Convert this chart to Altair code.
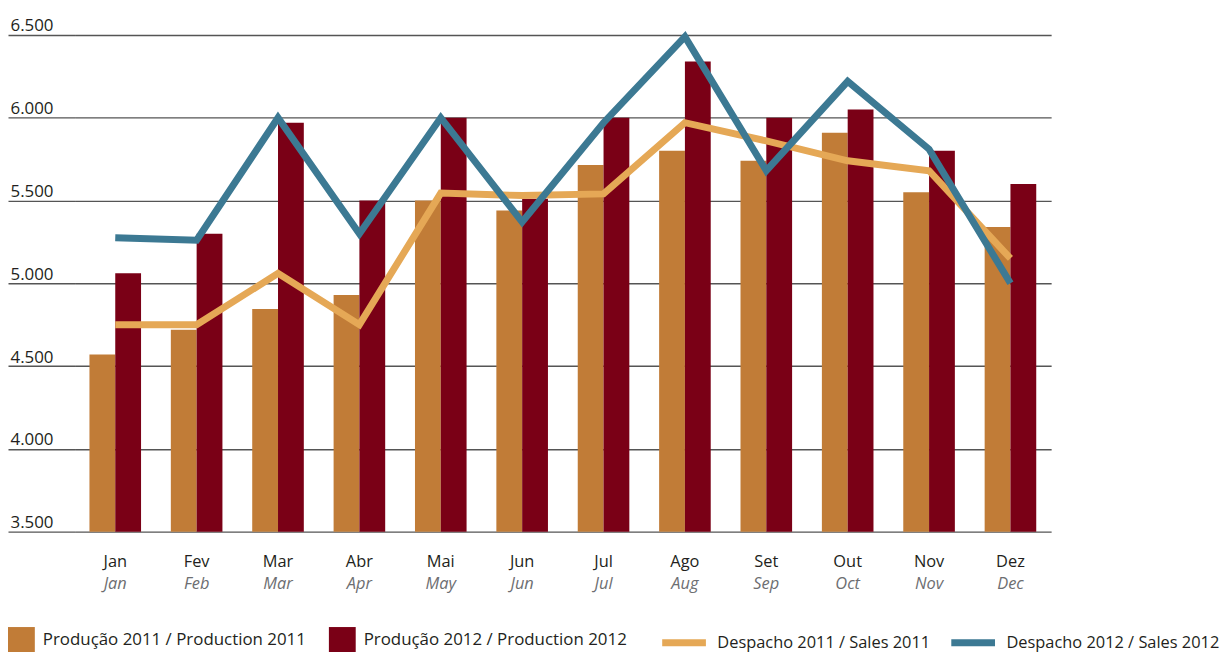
import altair as alt
import pandas as pd

months_pt = ["Jan", "Fev", "Mar", "Abr", "Mai", "Jun", "Jul", "Ago", "Set", "Out", "Nov", "Dez"]
months_en = ["Jan", "Feb", "Mar", "Apr", "May", "Jun", "Jul", "Aug", "Sep", "Oct", "Nov", "Dec"]

prod_2011 = [4570, 4720, 4845, 4930, 5500, 5440, 5715, 5800, 5740, 5910, 5550, 5340]
prod_2012 = [5060, 5300, 5970, 5500, 6000, 5510, 6000, 6340, 6000, 6050, 5800, 5600]
desp_2011 = [4750, 4750, 5060, 4750, 5545, 5530, 5540, 5970, 5860, 5740, 5680, 5150]
desp_2012 = [5275, 5260, 6000, 5300, 6000, 5370, 5970, 6490, 5680, 6220, 5810, 5000]

y_ticks = [3500, 4000, 4500, 5000, 5500, 6000, 6500]

series_prod = ["Produção 2011 / Production 2011", "Produção 2012 / Production 2012"]
series_desp = ["Despacho 2011 / Sales 2011", "Despacho 2012 / Sales 2012"]
colors_prod = ["#c17c37", "#7a0016"]
colors_desp = ["#e5a856", "#3c7993"]

rows_bars = []
for i, m in enumerate(months_pt):
    rows_bars.append({"mes": m, "serie": series_prod[0], "valor": prod_2011[i]})
    rows_bars.append({"mes": m, "serie": series_prod[1], "valor": prod_2012[i]})
df_bars = pd.DataFrame(rows_bars)

rows_lines = []
for s, vals in zip(series_desp, [desp_2011, desp_2012]):
    for i, m in enumerate(months_pt):
        rows_lines.append({"mes": m, "serie": s, "valor": vals[i]})
df_lines = pd.DataFrame(rows_lines)

df_months = pd.DataFrame({"mes": months_pt, "en": months_en})

FONT = "Open Sans"
TXT = "#231f20"
GRID = "#555555"
W = 983
H = 500

x_enc = alt.X(
    "mes:N",
    sort=months_pt,
    scale=alt.Scale(paddingInner=0.366, paddingOuter=0.183),
    axis=alt.Axis(
        title=None, labelAngle=0, domain=False, ticks=False, tickSize=0,
        labelPadding=35, labelBaseline="alphabetic", labelFont=FONT,
        labelFontSize=16.5, labelColor=TXT, grid=False,
    ),
)

y_enc = alt.Y(
    "valor:Q",
    scale=alt.Scale(domain=[3500, 6500], nice=False, zero=False),
    axis=alt.Axis(
        title=None, values=y_ticks, domain=False, grid=True,
        gridColor=GRID, gridWidth=1.4, ticks=True, tickSize=67,
        tickColor=GRID, tickWidth=1.4, labelAlign="left",
        labelBaseline="alphabetic", labelOffset=-4, labelPadding=-2,
        labelFont=FONT, labelFontSize=17, labelColor=TXT,
        labelExpr="replace(format(datum.value, ','), ',', '.')",
    ),
)

bars = alt.Chart(df_bars).mark_bar().encode(
    x=x_enc,
    xOffset=alt.XOffset("serie:N", sort=series_prod,
                        scale=alt.Scale(paddingInner=0, paddingOuter=0)),
    y=y_enc,
    y2=alt.datum(3500),
    fill=alt.Fill(
        "serie:N",
        scale=alt.Scale(domain=series_prod, range=colors_prod),
        legend=alt.Legend(
            orient="none", legendX=-67, legendY=596, direction="horizontal",
            title=None, symbolType="square", symbolSize=729, symbolStrokeWidth=0,
            labelFont=FONT, labelFontSize=17, labelColor=TXT, labelOffset=8,
            columnPadding=22, padding=0, labelLimit=400,
        ),
    ),
)

lines = alt.Chart(df_lines).mark_line(
    strokeWidth=7, strokeJoin="miter", strokeCap="butt"
).encode(
    x=alt.X("mes:N", sort=months_pt),
    y=alt.Y("valor:Q"),
    stroke=alt.Stroke(
        "serie:N",
        scale=alt.Scale(domain=series_desp, range=colors_desp),
        legend=alt.Legend(
            orient="none", legendX=588, legendY=586, direction="horizontal",
            title=None, symbolType="stroke", symbolSize=1936, symbolStrokeWidth=7,
            labelFont=FONT, labelFontSize=16.5, labelColor=TXT, labelOffset=8,
            columnPadding=6, padding=0, labelLimit=400,
        ),
    ),
)

en_labels = alt.Chart(df_months).mark_text(
    font=FONT, fontSize=16.5, fontStyle="italic", color="#6d6e71",
    baseline="alphabetic", align="center",
).encode(
    x=alt.X("mes:N", sort=months_pt),
    y=alt.value(H + 58),
    text="en:N",
)

chart = alt.layer(bars, lines, en_labels).properties(
    width=W, height=H,
    autosize=alt.AutoSizeParams(type="none"),
    padding={"top": 25, "left": 67, "right": 174, "bottom": 119},
    background="white",
).configure_view(stroke=None)

chart.save("out.html", embed_options={"renderer": "svg", "actions": False})
